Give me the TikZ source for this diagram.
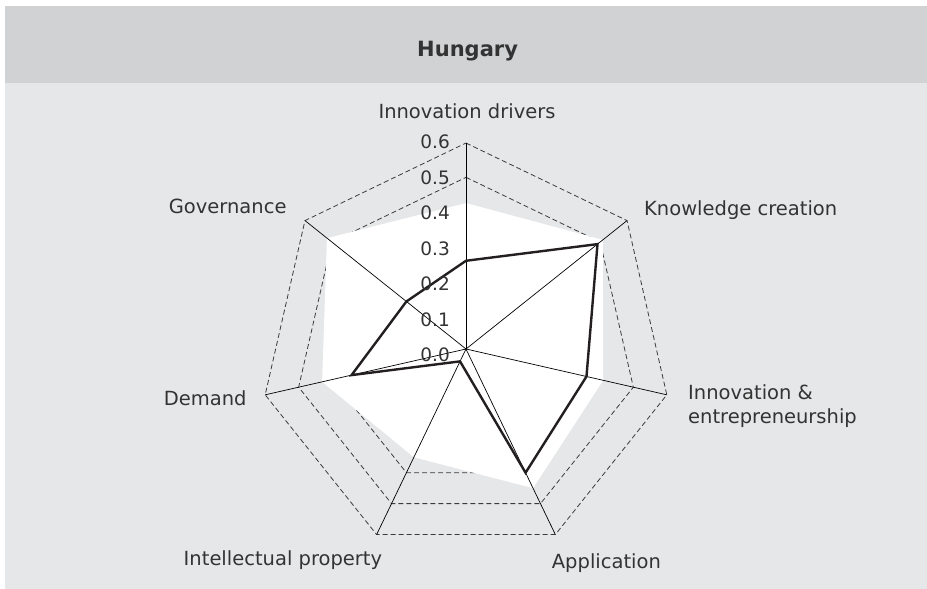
\documentclass[tikz,border=0pt]{standalone}
\usepackage{fontspec}
\setmainfont{DejaVu Sans}
\usepackage{tikz}
\usetikzlibrary{positioning}
\definecolor{hdrgray}{RGB}{209,210,212}
\definecolor{bodygray}{RGB}{230,231,232}
\definecolor{txtgray}{RGB}{51,51,51}
\definecolor{gridgray}{RGB}{60,60,60}
\definecolor{hulinecol}{RGB}{35,31,32}

\tikzset{
  gridring/.style={gridgray, line width=0.8pt, dash pattern=on 5pt off 3pt},
  spoke/.style={black, line width=0.7pt},
  huline/.style={hulinecol, line width=2.4pt, line join=miter},
  axislbl/.style={txtgray, font=\fontsize{19.5}{24.4}\selectfont, inner sep=0pt},
  ticklbl/.style={txtgray, font=\fontsize{18.5}{20}\selectfont, inner sep=0pt, anchor=east}
}

\begin{document}
\begin{tikzpicture}[x=1pt,y=1pt]
\useasboundingbox (-466,-240) rectangle (461,349);
% panel
\fill[hdrgray] (-461.3,266.3) rectangle (461,343);
\fill[bodygray] (-461.3,-240) rectangle (461,266.3);
\node[txtgray, font=\bfseries\fontsize{21}{25}\selectfont, anchor=base] (title) at (1.6,292.3) {Hungary};

% chart: 0.1 = 34.33pt
\coordinate (ctr) at (0,0);
\foreach \i in {0,...,6}
  \coordinate (ax\i) at (90-\i*360/7:206);
\foreach \v [count=\i from 0] in {0.425,0.51,0.41,0.45,0.35,0.43,0.518}
  \coordinate (ref\i) at (90-\i*360/7:\v*343.3);
\foreach \v [count=\i from 0] in {0.257,0.49,0.36,0.40,0.04,0.342,0.222}
  \coordinate (hu\i) at (90-\i*360/7:\v*343.3);

% rings
\foreach \r in {0.4,0.5,0.6}
  \draw[gridring] (90:\r*343.3) \foreach \i in {1,...,6} { -- (90-\i*360/7:\r*343.3) } -- cycle;

% reference area
\fill[white] (ref0) -- (ref1) -- (ref2) -- (ref3) -- (ref4) -- (ref5) -- (ref6) -- cycle;

% spokes
\foreach \i in {0,...,6}
  \draw[spoke] (ctr) -- (ax\i);

% Hungary
\draw[huline] (hu0) -- (hu1) -- (hu2) -- (hu3) -- (hu4) -- (hu5) -- (hu6) -- cycle;

% scale
\foreach \k in {0,...,6}
  \node[ticklbl] (tick\k) at (-16,-6+35.5*\k) {0.\k};

% axis labels
\node[axislbl, anchor=base] (lblID) at (1,230.7) {Innovation drivers};
\node[axislbl, anchor=base west] (lblKC) at (178,133) {Knowledge creation};
\node[axislbl, anchor=north west, align=left] (lblIE) at (222,-35) {Innovation \&\\entrepreneurship};
\node[axislbl, anchor=base west] (lblAP) at (85.7,-219.3) {Application};
\node[axislbl, anchor=base east] (lblIP) at (-83.7,-216) {Intellectual property};
\node[axislbl, anchor=base east] (lblDM) at (-219.3,-57) {Demand};
\node[axislbl, anchor=base east] (lblGV) at (-179.3,135.7) {Governance};
\end{tikzpicture}
\end{document}
